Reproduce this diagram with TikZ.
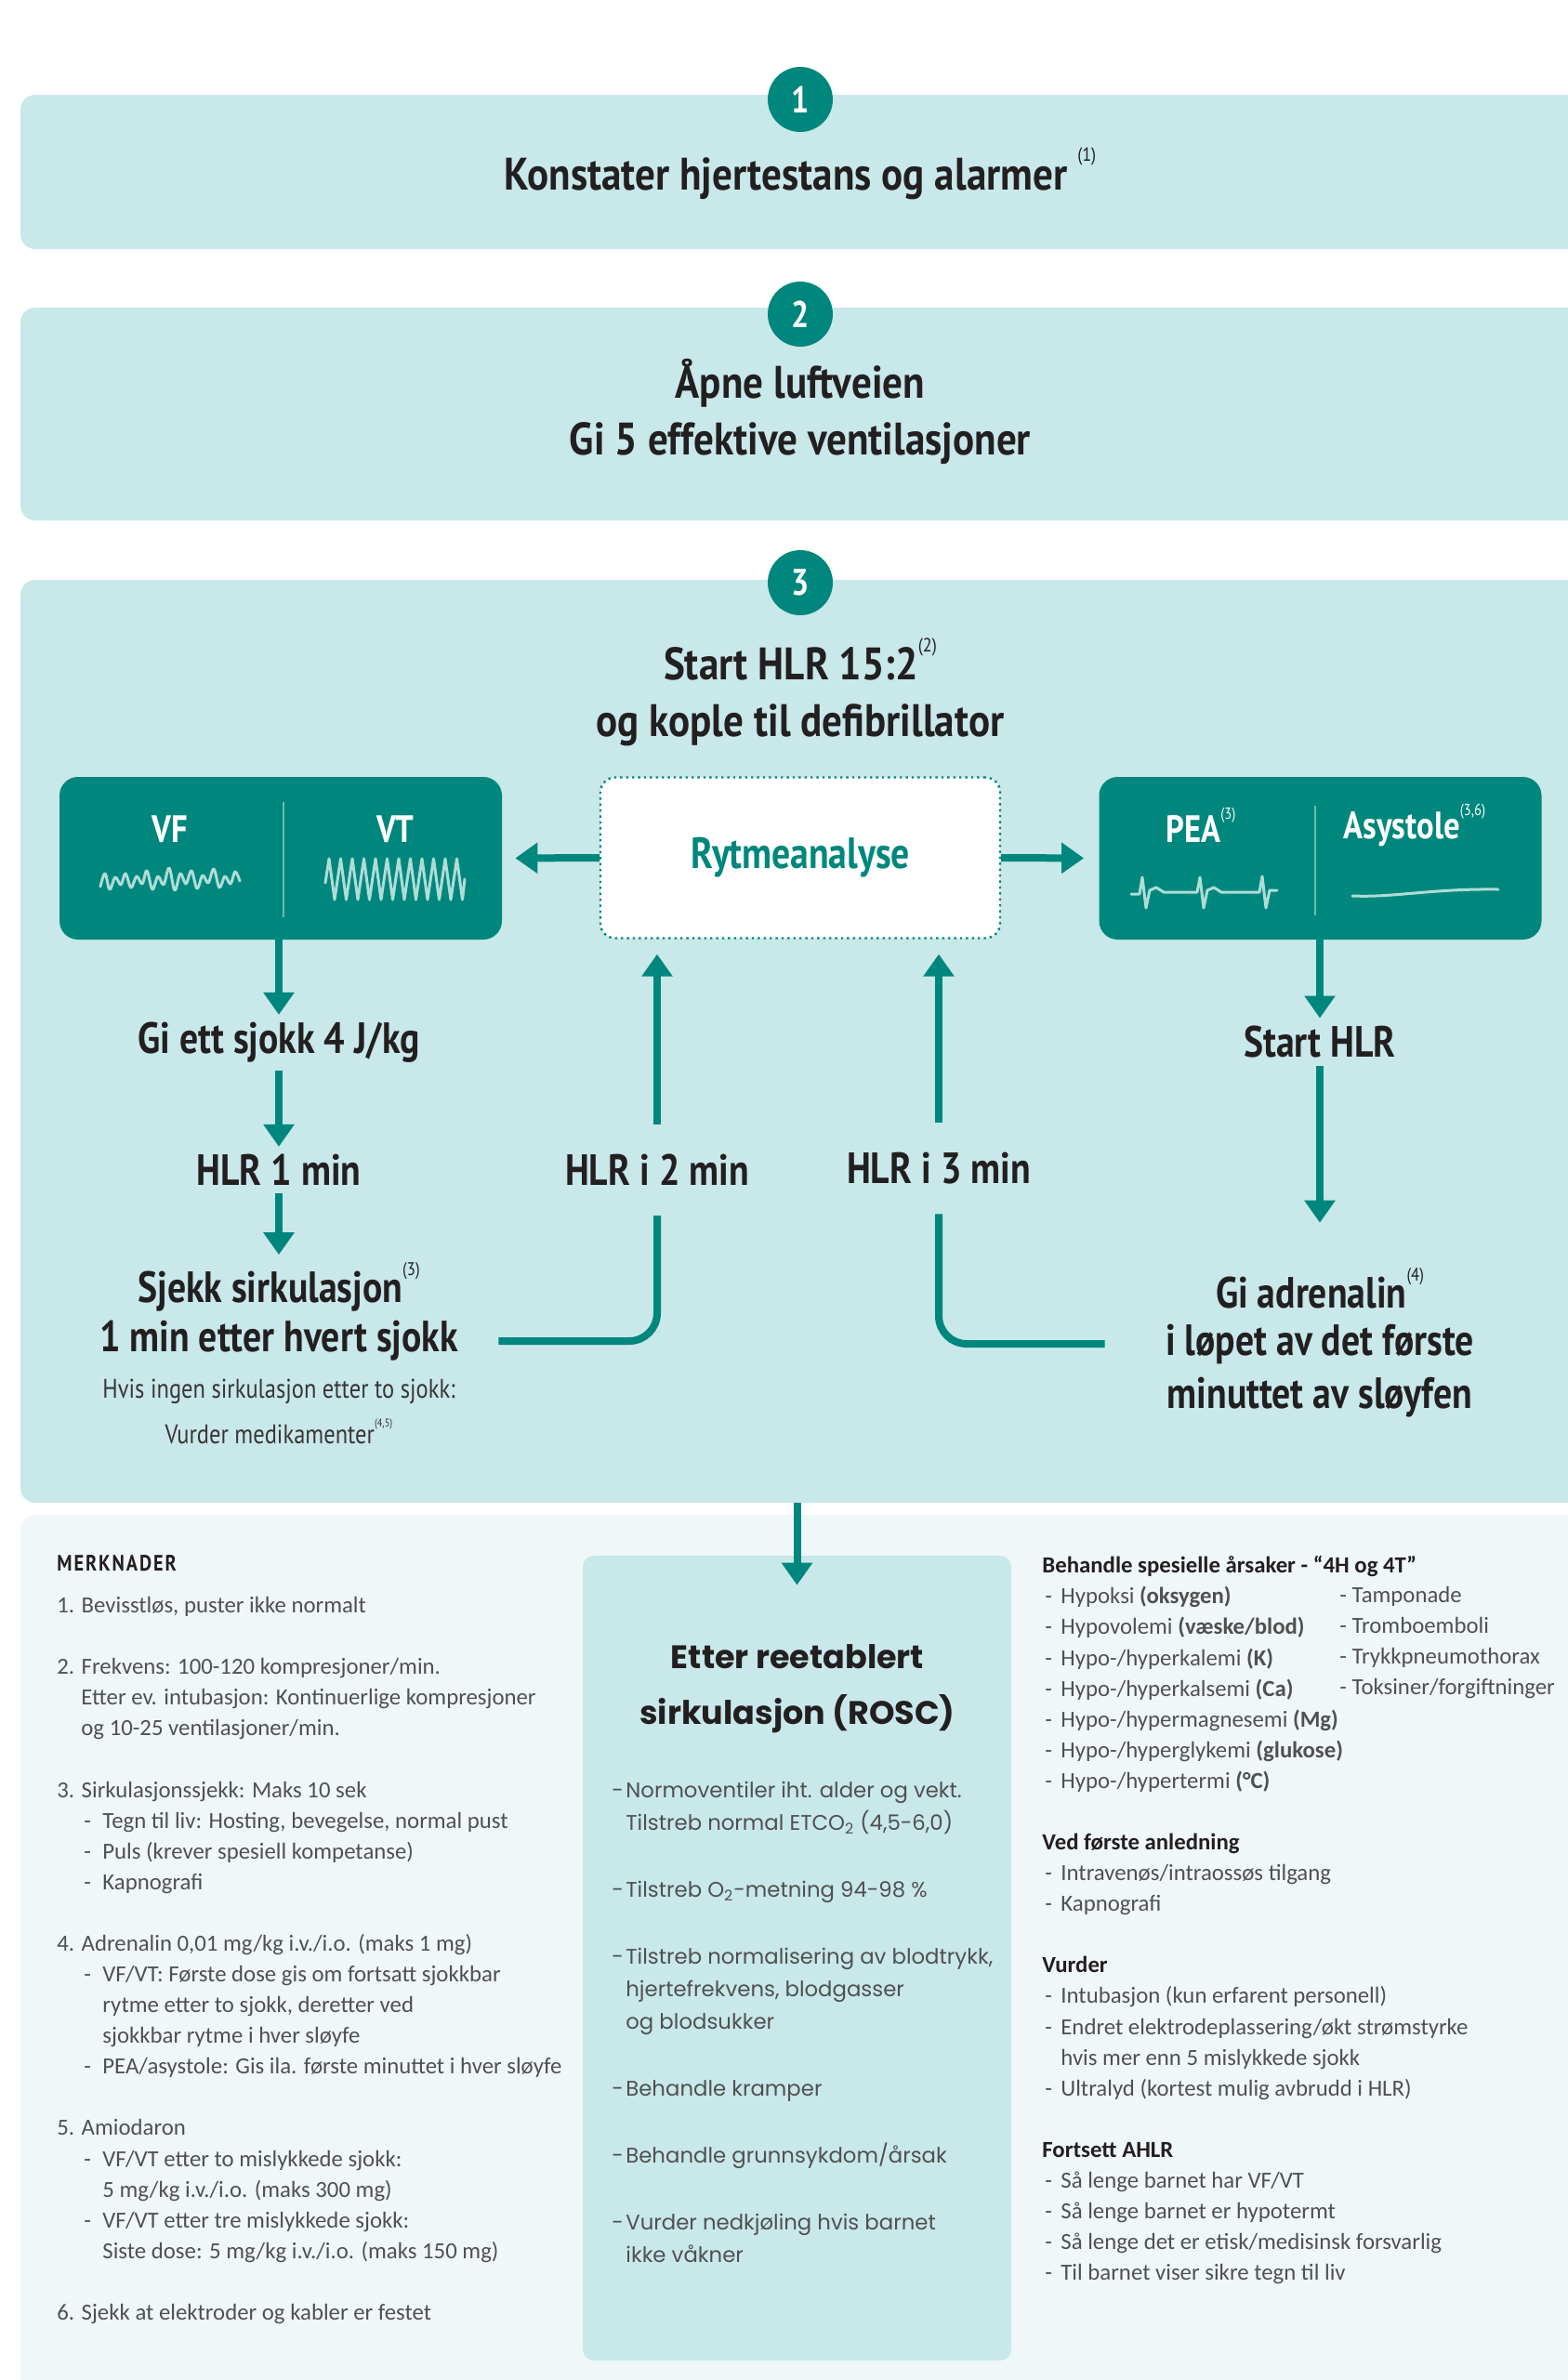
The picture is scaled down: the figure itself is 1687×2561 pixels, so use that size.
\documentclass[tikz,border=0pt]{standalone}
\usepackage{fontspec}
\usepackage{graphicx}
\newfontfamily\headfont{PT Sans}[FakeStretch=0.845]
\newfontfamily\boxfont{PT Sans}[FakeStretch=0.88]
\newfontfamily\notefont{Carlito}
\newfontfamily\roscfont{Poppins}
\usetikzlibrary{arrows.meta}

\definecolor{hlrteal}{RGB}{0,135,125}
\definecolor{boxfill}{RGB}{200,232,234}
\definecolor{notebg}{RGB}{240,247,249}
\definecolor{ink}{RGB}{35,31,32}
\definecolor{notegray}{RGB}{80,80,80}
\definecolor{wavecol}{RGB}{175,220,215}
\definecolor{divcol}{RGB}{110,185,178}

\newcommand\fnref[1]{\raisebox{0.62em}{\scalebox{0.42}{\mdseries(#1)}}}
\newcommand\dashitem{\hspace*{14.5pt}\makebox[10pt][l]{-}}
\newcommand\contline{\hspace*{24.5pt}}
\newcommand\rdash{\makebox[10pt][l]{\hspace{1.5pt}-}}
\newcommand\rosdash{\makebox[7.5pt][l]{-}}
\newcommand\roscont{\hspace*{7.5pt}}
\newcommand\nhead[1]{{\bfseries\color{ink}#1}}

\begin{document}
\begin{tikzpicture}[x=0.5pt, y=-0.5pt]
    \tikzset{panel/.style = {fill=boxfill, rounded corners=8pt, minimum width=850pt, inner sep=0}}
    \tikzset{numdot/.style = {circle, fill=hlrteal, minimum size=35pt, inner sep=0, text=white,
        font=\headfont\bfseries\fontsize{20}{20}\selectfont}}
    \tikzset{boxhead/.style = {font=\boxfont\bfseries\fontsize{24.5}{30.5}\selectfont, text=ink,
        align=center, inner sep=4pt}}
    \tikzset{stepnode/.style = {font=\headfont\bfseries\fontsize{23.5}{30.5}\selectfont, text=ink,
        align=center, inner sep=4pt}}
    \tikzset{looplabel/.style = {stepnode, inner xsep=2pt, inner ysep=16pt}}
    \tikzset{smallstep/.style = {font=\headfont\fontsize{14.5}{20}\selectfont, text=ink!90, inner sep=0}}
    \tikzset{darkbox/.style = {fill=hlrteal, rounded corners=10pt, minimum width=238pt, minimum height=87.5pt}}
    \tikzset{rytbox/.style = {fill=white, draw=hlrteal, dotted, line width=1.2pt, rounded corners=8pt,
        minimum width=215pt, minimum height=86.5pt, text=hlrteal,
        font=\headfont\bfseries\fontsize{23.5}{28}\selectfont}}
    \tikzset{rhythm/.style = {text=white, inner sep=0, font=\headfont\bfseries\fontsize{20.5}{24}\selectfont}}
    \tikzset{wave/.style = {draw=wavecol, line width=1.5pt, line join=round, line cap=round}}
    \tikzset{divider/.style = {draw=divcol, line width=1pt}}
    \tikzset{arr/.style = {draw=hlrteal, line width=4pt, -{Triangle[width=16pt,length=12pt]}}}
    \tikzset{loopline/.style = {draw=hlrteal, line width=4pt, rounded corners=15pt}}
    \tikzset{notes/.style = {font=\notefont\fontsize{12.4}{16.55}\selectfont, text=notegray,
        align=left, inner sep=0}}
    \tikzset{rosctext/.style = {font=\roscfont\fontsize{11.4}{17.5}\selectfont, text=notegray,
        align=left, inner sep=0}}

    \path[use as bounding box, fill=white] (0,0) rectangle (1687,2561);
    \clip (0,0) rectangle (1687,2561);

    % the three step panels
    \node[panel, minimum height=83pt] (box1) at (872,185) {};
    \node[panel, minimum height=114.5pt] (box2) at (872,445.5) {};
    \node[panel, minimum height=496.5pt] (box3) at (872,1120.5) {};
    \node[panel, fill=notebg, minimum height=485pt] (notebox) at (872,2115) {};

    \node[numdot] (n1) at (861,107) {1};
    \node[numdot] (n2) at (861,338) {2};
    \node[numdot] (n3) at (861,627) {3};

    \node[boxhead] (konst) at (861,187) {Konstater hjertestans og alarmer \fnref{1}};
    \node[boxhead] (luft) at (861,443) {Åpne luftveien\\Gi 5 effektive ventilasjoner};
    \node[boxhead] (starthlr) at (861,745) {Start HLR 15:2\fnref{2}\\og kople til defibrillator};

    % rytmeanalyse and the two rhythm groups
    \node[rytbox] (rytme) at (861,923) {Rytmeanalyse};
    \node[darkbox] (vfvt) at (302,923.5) {};
    \node[darkbox] (peabox) at (1420.5,923.5) {};
    \draw[divider] (305,863) -- (305,987);
    \draw[divider] (1415,867) -- (1415,985);
    \node[rhythm] (vf) at (183,892) {VF};
    \node[rhythm] (vt) at (425,892) {VT};
    \node[rhythm] (pea) at (1292,888) {PEA\fnref{3}};
    \node[rhythm] (asys) at (1522,888) {Asystole\fnref{3,6}};

    % rhythm strips
    \draw[wave] plot[smooth, tension=0.6] coordinates {(108,954) (113,940) (118,957) (124,944) (130,952)
        (135,940) (141,955) (147,943) (153,951) (158,937) (164,957) (170,943) (176,952) (182,934)
        (188,958) (194,940) (200,951) (206,937) (212,956) (218,942) (224,950) (230,935) (236,955)
        (242,943) (248,951) (253,938) (258,948)};
    \draw[wave] (350,950) \foreach \k in {0,...,11} {-- ({354+12.5*\k},924) -- ({360+12.5*\k},968)} -- (500,946);
    \draw[wave] (1217,962) -- (1226,962) -- (1229,944) -- (1233,977) -- (1237,958) -- (1244,955)
        -- (1252,960) -- (1288,960) -- (1291,944) -- (1295,977) -- (1299,958) -- (1306,955)
        -- (1314,960) -- (1355,960) -- (1358,943) -- (1362,977) -- (1366,958) -- (1374,958);
    \draw[wave] (1455,964) .. controls (1500,966) and (1540,956) .. (1612,957);

    \draw[arr, shorten >=7pt] (rytme.west) -- (vfvt.east);
    \draw[arr, shorten >=8pt] (rytme.east) -- (peabox.west);

    % sjokkbar side
    \node[stepnode] (sjokk) at (300,1122) {Gi ett sjokk 4 J/kg};
    \node[stepnode] (hlr1) at (300,1259) {HLR 1 min};
    \node[stepnode] (sjekk) at (300,1385) {Sjekk sirkulasjon\fnref{3}};
    \node[stepnode] (sjekkmin) at (300,1443) {1 min etter hvert sjokk};
    \node[smallstep] (hvis) at (300,1497) {Hvis ingen sirkulasjon etter to sjokk:};
    \node[smallstep] (vurdmed) at (300,1540) {Vurder medikamenter\fnref{4,5}};

    \draw[arr] (vfvt.south -| sjokk.north) -- (sjokk.north);
    \draw[arr] (sjokk) -- (hlr1);
    \draw[arr] (hlr1) -- (sjekk);

    % ikke-sjokkbar side
    \node[stepnode] (starthlr2) at (1420,1121) {Start HLR};
    \node[stepnode] (adr) at (1420,1386) {Gi adrenalin\fnref{4}};
    \node[stepnode] (adrlop) at (1420,1446) {i løpet av det første};
    \node[stepnode] (adrmin) at (1420,1504) {minuttet av sløyfen};

    \draw[arr] (peabox.south -| starthlr2.north) -- (starthlr2.north);
    \draw[arr, shorten >=20pt] (starthlr2) -- (adr);

    % loops back to rytmeanalyse
    \node[looplabel] (hlr2) at (707,1259) {HLR i 2 min};
    \node[looplabel] (hlr3) at (1010,1257) {HLR i 3 min};
    \draw[loopline, shorten <=17.5pt] (sjekkmin.east) -| (hlr2.south);
    \draw[arr, shorten >=8pt] (hlr2.north) -- (hlr2.north |- rytme.south);
    \draw[loopline, shorten <=28.5pt] (adrlop.west) -| (hlr3.south);
    \draw[arr, shorten >=8pt] (hlr3.north) -- (hlr3.north |- rytme.south);

    % ROSC
    \node[panel, minimum width=230.5pt, minimum height=433pt, rounded corners=6pt] (rosc) at (857.5,2107) {};
    \draw[arr, shorten >=-16pt] (box3.south -| rosc.north) -- (rosc.north);
    \node[font=\roscfont\bfseries\fontsize{17.5}{30}\selectfont, text=ink, align=center] (rosctitle)
        at (858,1817) {Etter reetablert\\sirkulasjon (ROSC)};
    \node[rosctext, anchor=north west] (roscpkt) at (658,1917) {%
        \rosdash Normoventiler iht. alder og vekt.\\
        \roscont Tilstreb normal ETCO\textsubscript{2} (4,5-6,0)\\[18.5pt]
        \rosdash Tilstreb O\textsubscript{2}-metning 94-98 \%\\[18.5pt]
        \rosdash Tilstreb normalisering av blodtrykk,\\
        \roscont hjertefrekvens, blodgasser\\
        \roscont og blodsukker\\[18.5pt]
        \rosdash Behandle kramper\\[18.5pt]
        \rosdash Behandle grunnsykdom/årsak\\[18.5pt]
        \rosdash Vurder nedkjøling hvis barnet\\
        \roscont ikke våkner};

    % merknader
    \node[anchor=west, inner sep=0, text=ink,
        font=\headfont\bfseries\fontsize{12}{14}\selectfont\addfontfeature{LetterSpace=8}] (merk)
        at (61,1682) {MERKNADER};
    \node[notes, anchor=north west] (merkbody) at (61,1718) {%
        1. Bevisstløs, puster ikke normalt\\[16.5pt]
        2. Frekvens: 100-120 kompresjoner/min.\\
        \hspace*{13pt}Etter ev. intubasjon: Kontinuerlige kompresjoner\\
        \hspace*{13pt}og 10-25 ventilasjoner/min.\\[16.5pt]
        3. Sirkulasjonssjekk: Maks 10 sek\\
        \dashitem Tegn til liv: Hosting, bevegelse, normal pust\\
        \dashitem Puls (krever spesiell kompetanse)\\
        \dashitem Kapnografi\\[16.5pt]
        4. Adrenalin 0,01 mg/kg i.v./i.o. (maks 1 mg)\\
        \dashitem VF/VT: Første dose gis om fortsatt sjokkbar\\
        \contline rytme etter to sjokk, deretter ved\\
        \contline sjokkbar rytme i hver sløyfe\\
        \dashitem PEA/asystole: Gis ila. første minuttet i hver sløyfe\\[16.5pt]
        5. Amiodaron\\
        \dashitem VF/VT etter to mislykkede sjokk:\\
        \contline 5 mg/kg i.v./i.o. (maks 300 mg)\\
        \dashitem VF/VT etter tre mislykkede sjokk:\\
        \contline Siste dose: 5 mg/kg i.v./i.o. (maks 150 mg)\\[16.5pt]
        6. Sjekk at elektroder og kabler er festet};

    \node[notes, anchor=north west] (aarsak) at (1121,1674) {%
        \nhead{Behandle spesielle årsaker - “4H og 4T”}\\
        \rdash Hypoksi \textbf{(oksygen)}\\
        \rdash Hypovolemi \textbf{(væske/blod)}\\
        \rdash Hypo-/hyperkalemi \textbf{(K)}\\
        \rdash Hypo-/hyperkalsemi \textbf{(Ca)}\\
        \rdash Hypo-/hypermagnesemi \textbf{(Mg)}\\
        \rdash Hypo-/hyperglykemi \textbf{(glukose)}\\
        \rdash Hypo-/hypertermi \textbf{(°C)}\\[16.5pt]
        \nhead{Ved første anledning}\\
        \rdash Intravenøs/intraossøs tilgang\\
        \rdash Kapnografi\\[16.5pt]
        \nhead{Vurder}\\
        \rdash Intubasjon (kun erfarent personell)\\
        \rdash Endret elektrodeplassering/økt strømstyrke\\
        \hspace*{10pt}hvis mer enn 5 mislykkede sjokk\\
        \rdash Ultralyd (kortest mulig avbrudd i HLR)\\[16.5pt]
        \nhead{Fortsett AHLR}\\
        \rdash Så lenge barnet har VF/VT\\
        \rdash Så lenge barnet er hypotermt\\
        \rdash Så lenge det er etisk/medisinsk forsvarlig\\
        \rdash Til barnet viser sikre tegn til liv};
    \node[notes, anchor=north west] (fireT) at (1441,1707) {%
        - Tamponade\\- Tromboemboli\\- Trykkpneumothorax\\- Toksiner/forgiftninger};

\end{tikzpicture}
\end{document}
